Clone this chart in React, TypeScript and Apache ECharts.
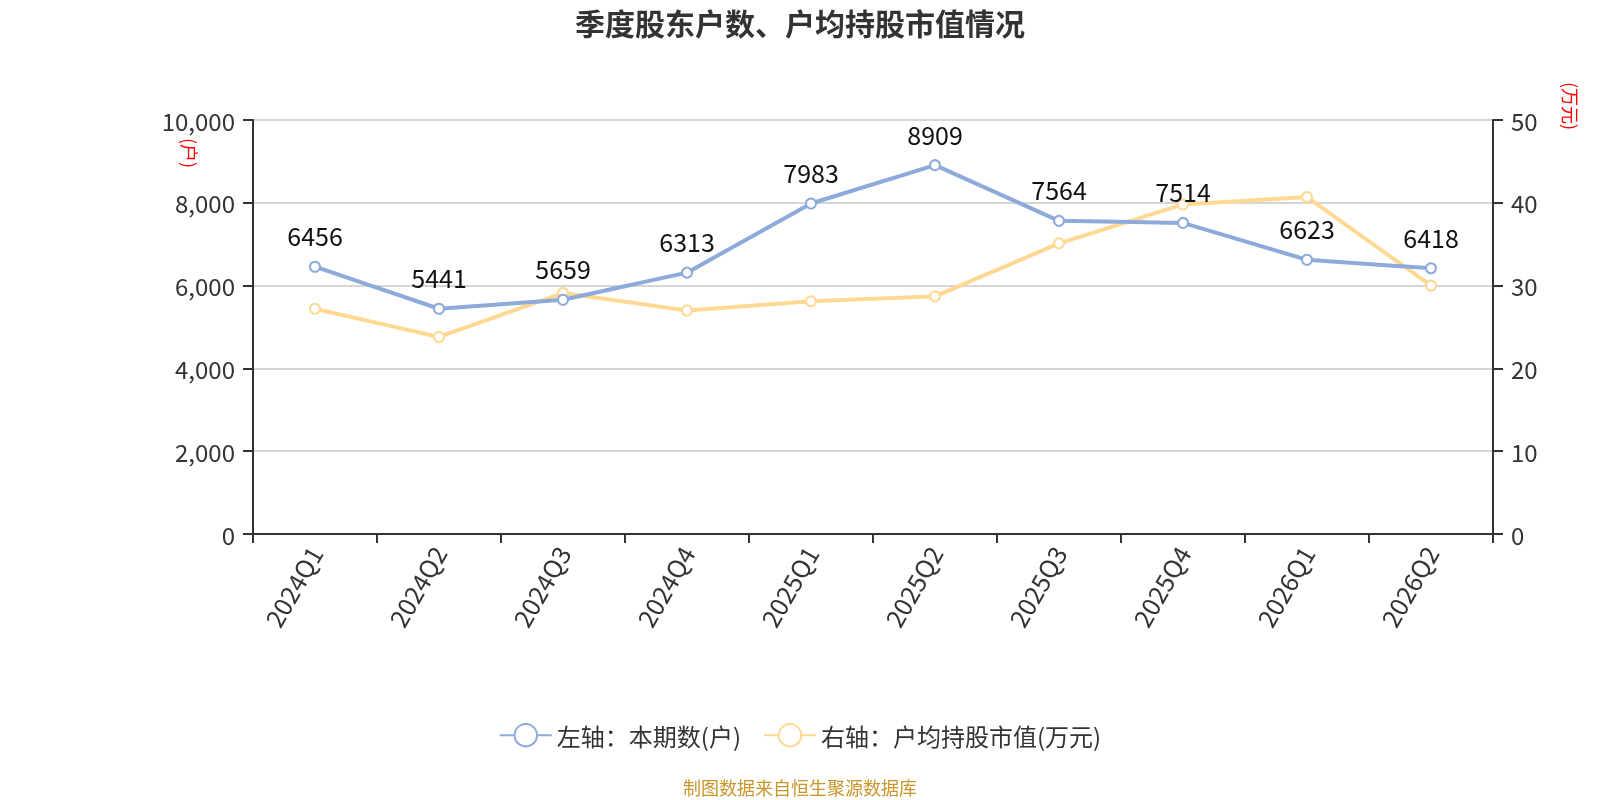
import React, { useEffect, useRef } from "react";
import * as echarts from "echarts";

const categories = ["2024Q1", "2024Q2", "2024Q3", "2024Q4", "2025Q1", "2025Q2", "2025Q3", "2025Q4", "2026Q1", "2026Q2"];
const holders = [6456, 5441, 5659, 6313, 7983, 8909, 7564, 7514, 6623, 6418];
const avgValue = [27.2, 23.8, 29.1, 27.0, 28.1, 28.7, 35.1, 39.8, 40.7, 30.0];
const leftTicks = { min: 0, max: 10000, interval: 2000 };
const rightTicks = { min: 0, max: 50, interval: 10 };
const seriesNames = ["左轴：本期数(户)", "右轴：户均持股市值(万元)"];

const FONT = "'Noto Sans CJK SC', 'Noto Sans', sans-serif";
const BLUE = "#8eaadb";
const YELLOW = "#ffd993";

export default function App() {
  const ref = useRef<HTMLDivElement>(null);
  useEffect(() => {
    if (!ref.current) return;
    const chart = echarts.init(ref.current, undefined, { renderer: "svg" });
    const axisCommon = {
      axisLine: { show: true, lineStyle: { color: "#333", width: 2 } },
      axisTick: { show: true, length: 10, lineStyle: { color: "#333", width: 2 } },
    };
    chart.setOption({
      animation: false,
      textStyle: { fontFamily: FONT },
      title: {
        text: "季度股东户数、户均持股市值情况",
        left: "center",
        top: 2,
        textStyle: { fontSize: 30, fontWeight: "bold", color: "#333", fontFamily: FONT },
      },
      grid: { left: 253, right: 107, top: 120, bottom: 266 },
      legend: {
        top: 718,
        left: "center",
        itemWidth: 52,
        itemHeight: 28,
        itemGap: 22,
        textStyle: { fontSize: 24, color: "#333", fontFamily: FONT },
        data: seriesNames,
      },
      graphic: [
        {
          type: "text",
          x: 190,
          y: 153,
          rotation: -Math.PI / 2,
          style: { text: "(户)", fill: "#ff0000", fontSize: 18, fontFamily: FONT, align: "center", verticalAlign: "middle" },
        },
        {
          type: "text",
          x: 1571,
          y: 106,
          rotation: -Math.PI / 2,
          style: { text: "(万元)", fill: "#ff0000", fontSize: 18, fontFamily: FONT, align: "center", verticalAlign: "middle" },
        },
        {
          type: "text",
          left: "center",
          top: 778,
          style: { text: "制图数据来自恒生聚源数据库", fill: "#c9952b", fontSize: 18, fontFamily: FONT },
        },
      ],
      xAxis: {
        type: "category",
        data: categories,
        boundaryGap: true,
        ...axisCommon,
        axisTick: { show: true, length: 9, lineStyle: { color: "#333", width: 2 } },
        axisLabel: { rotate: 60, fontSize: 25, color: "#333", margin: 14, fontFamily: FONT },
      },
      yAxis: [
        {
          type: "value",
          ...leftTicks,
          position: "left",
          ...axisCommon,
          axisLabel: { fontSize: 24, color: "#333", margin: 18, fontFamily: FONT, formatter: (v: number) => v.toLocaleString("en-US") },
          splitLine: { show: true, lineStyle: { color: "#c8c8c8", width: 1.5 } },
        },
        {
          type: "value",
          ...rightTicks,
          position: "right",
          ...axisCommon,
          axisLabel: { fontSize: 24, color: "#333", margin: 18, fontFamily: FONT },
          splitLine: { show: false },
        },
      ],
      series: [
        {
          name: seriesNames[0],
          type: "line",
          yAxisIndex: 0,
          data: holders,
          symbol: "emptyCircle",
          symbolSize: 10,
          itemStyle: { color: BLUE, borderWidth: 2 },
          lineStyle: { color: BLUE, width: 4 },
          label: { show: true, position: "top", distance: 13, fontSize: 25, color: "#111", fontFamily: FONT },
          z: 3,
        },
        {
          name: seriesNames[1],
          type: "line",
          yAxisIndex: 1,
          data: avgValue,
          symbol: "emptyCircle",
          symbolSize: 10,
          itemStyle: { color: YELLOW, borderWidth: 2 },
          lineStyle: { color: YELLOW, width: 4 },
          label: { show: false },
          z: 2,
        },
      ],
    });
    return () => chart.dispose();
  }, []);
  return <div ref={ref} style={{ position: "fixed", left: 0, top: 0, width: 1600, height: 800 }} />;
}
